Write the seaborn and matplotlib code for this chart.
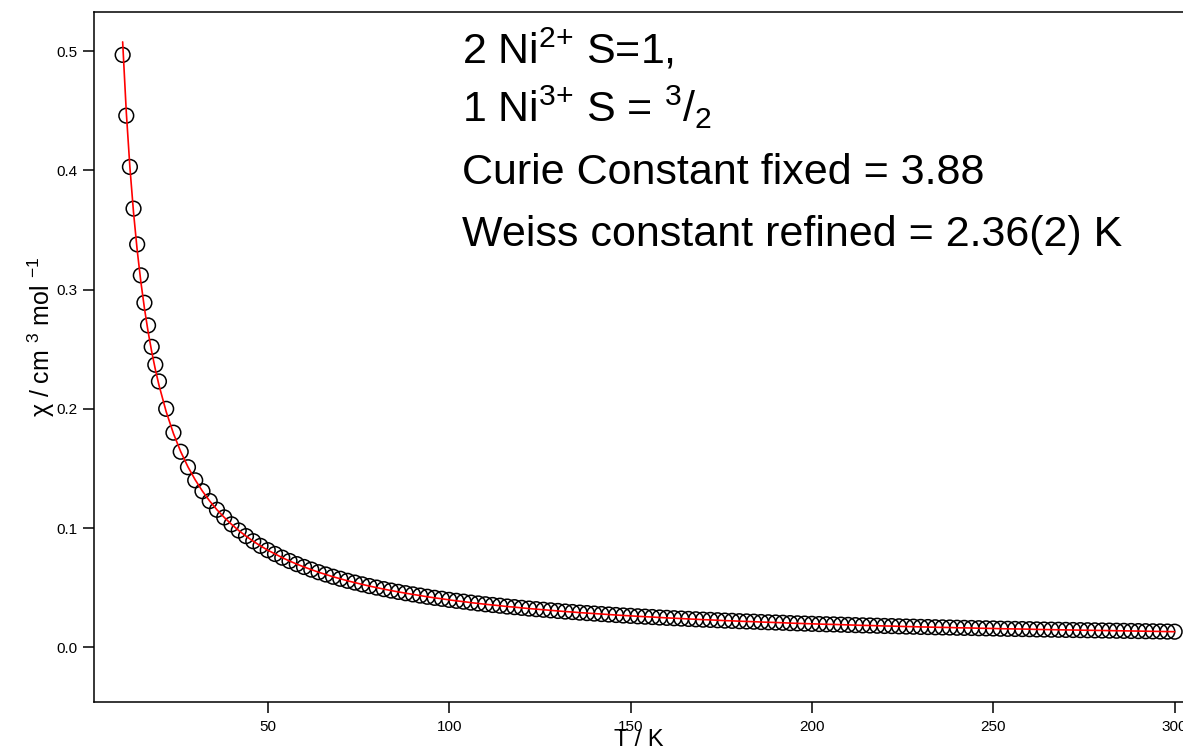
import matplotlib
matplotlib.use("Agg")
import matplotlib.pyplot as plt
import seaborn as sns
import pandas as pd

# ---- data ----
temperature = [10, 11, 12, 13, 14, 15, 16, 17, 18, 19, 20,
               22, 24, 26, 28, 30, 32, 34, 36, 38, 40, 42, 44, 46, 48, 50,
               52, 54, 56, 58, 60, 62, 64, 66, 68, 70, 72, 74, 76, 78, 80,
               82, 84, 86, 88, 90, 92, 94, 96, 98, 100, 102, 104, 106, 108, 110,
               112, 114, 116, 118, 120, 122, 124, 126, 128, 130, 132, 134, 136, 138, 140,
               142, 144, 146, 148, 150, 152, 154, 156, 158, 160, 162, 164, 166, 168, 170,
               172, 174, 176, 178, 180, 182, 184, 186, 188, 190, 192, 194, 196, 198, 200,
               202, 204, 206, 208, 210, 212, 214, 216, 218, 220, 222, 224, 226, 228, 230,
               232, 234, 236, 238, 240, 242, 244, 246, 248, 250, 252, 254, 256, 258, 260,
               262, 264, 266, 268, 270, 272, 274, 276, 278, 280, 282, 284, 286, 288, 290,
               292, 294, 296, 298, 300]

chi_measured = [0.497, 0.446, 0.403, 0.368, 0.338, 0.312, 0.289, 0.270, 0.252, 0.237, 0.223,
                0.200, 0.180, 0.164, 0.151, 0.140, 0.1309, 0.1226, 0.1153, 0.1089, 0.1031,
                0.0979, 0.0932, 0.0889, 0.0850, 0.0814,
                0.0782, 0.0751, 0.0723, 0.0697, 0.0673, 0.0651, 0.0629, 0.0610, 0.0591, 0.0574,
                0.0557, 0.0542, 0.0527, 0.0513, 0.0500,
                0.0487, 0.0475, 0.0464, 0.0453, 0.0443, 0.0433, 0.0423, 0.0414, 0.0406, 0.0397,
                0.0389, 0.0382, 0.0374, 0.0367, 0.0360,
                0.0354, 0.0348, 0.0341, 0.0336, 0.0330, 0.0324, 0.0319, 0.0314, 0.0309, 0.0304,
                0.0299, 0.0295, 0.0290, 0.0286, 0.0282,
                0.0278, 0.0274, 0.0270, 0.0266, 0.0263, 0.0259, 0.0256, 0.0253, 0.0249, 0.0246,
                0.0243, 0.0240, 0.0237, 0.0234, 0.0231,
                0.0229, 0.0226, 0.0223, 0.0221, 0.0218, 0.0216, 0.0214, 0.0211, 0.0209, 0.0207,
                0.0205, 0.0202, 0.0200, 0.0198, 0.0196,
                0.0194, 0.0192, 0.0191, 0.0189, 0.0187, 0.0185, 0.0183, 0.0182, 0.0180, 0.0178,
                0.0177, 0.0175, 0.0173, 0.0172, 0.0170,
                0.0169, 0.0167, 0.0166, 0.0165, 0.0163, 0.0162, 0.0161, 0.0159, 0.0158, 0.0157,
                0.0155, 0.0154, 0.0153, 0.0152, 0.0151,
                0.0149, 0.0148, 0.0147, 0.0146, 0.0145, 0.0144, 0.0143, 0.0142, 0.0141, 0.0140,
                0.0139, 0.0138, 0.0137, 0.0136, 0.0135,
                0.0134, 0.0133, 0.0132, 0.0131, 0.0130]

# fitted curve: low-temperature part differs slightly from the points
fit_low = [0.5079, 0.4491, 0.4025, 0.3647, 0.3333, 0.3070, 0.2845, 0.2650, 0.2481,
           0.2332, 0.2200, 0.1976, 0.1793, 0.1641, 0.1513, 0.1404]
chi_fit = fit_low + chi_measured[len(fit_low):]

x_ticks = [50, 100, 150, 200, 250, 300]
y_ticks = [0.0, 0.1, 0.2, 0.3, 0.4, 0.5]

annotations = [
    "2 Ni$^{2{+}}$ S=1,",
    "1 Ni$^{3{+}}$ S = $^{3}$/$_{2}$",
    "Curie Constant fixed = 3.88",
    "Weiss constant refined = 2.36(2) K",
]

df_pts = pd.DataFrame({"T": temperature, "chi": chi_measured})
df_fit = pd.DataFrame({"T": temperature, "chi": chi_fit})

# ---- style ----
sns.set_theme(style="ticks")
plt.rcParams["font.family"] = ["Liberation Sans", "DejaVu Sans"]
plt.rcParams["mathtext.fontset"] = "custom"
plt.rcParams["mathtext.rm"] = "Liberation Sans"
plt.rcParams["mathtext.it"] = "Liberation Sans:italic"
plt.rcParams["mathtext.default"] = "regular"
plt.rcParams["axes.labelcolor"] = "black"
plt.rcParams["text.color"] = "black"

fig = plt.figure(figsize=(11.83, 7.55), dpi=100)
ax = fig.add_axes([94 / 1183, 1 - 702 / 755, 1 - 94 / 1183, (702 - 12) / 755])

sns.scatterplot(data=df_pts, x="T", y="chi", ax=ax, marker="o", s=112,
                facecolors="none", edgecolor="black", linewidth=1.1, zorder=2)
sns.lineplot(data=df_fit, x="T", y="chi", ax=ax, color="red", linewidth=1.2,
             sort=False, estimator=None, zorder=3)

ax.set_xlim(2.1, 302.3)
ax.set_ylim(-0.046, 0.533)
ax.set_xticks(x_ticks)
ax.set_xticklabels([str(t) for t in x_ticks])
ax.set_yticks(y_ticks)
ax.set_yticklabels([f"{v:.1f}" for v in y_ticks])

for side in ["left", "bottom", "top"]:
    ax.spines[side].set_visible(True)
    ax.spines[side].set_linewidth(1.1)
    ax.spines[side].set_color("black")
ax.spines["right"].set_visible(False)

ax.tick_params(axis="both", direction="out", length=8, width=1.1, color="black",
               labelsize=11, labelcolor="black")
ax.tick_params(axis="x", pad=5)
ax.tick_params(axis="y", pad=4)

ax.set_xlabel("T / K", fontsize=17, labelpad=-4, color="black")
ax.set_ylabel("χ / cm $^{3}$ mol $^{-1}$", fontsize=18, color="black")
ax.yaxis.set_label_coords(-0.034, 0.53)

y_positions = [0.926, 0.840, 0.751, 0.661]
for txt, yp in zip(annotations, y_positions):
    ax.text(0.338, yp, txt, transform=ax.transAxes, fontsize=31,
            ha="left", va="baseline", color="black")

fig.savefig("out.png", dpi=100)
